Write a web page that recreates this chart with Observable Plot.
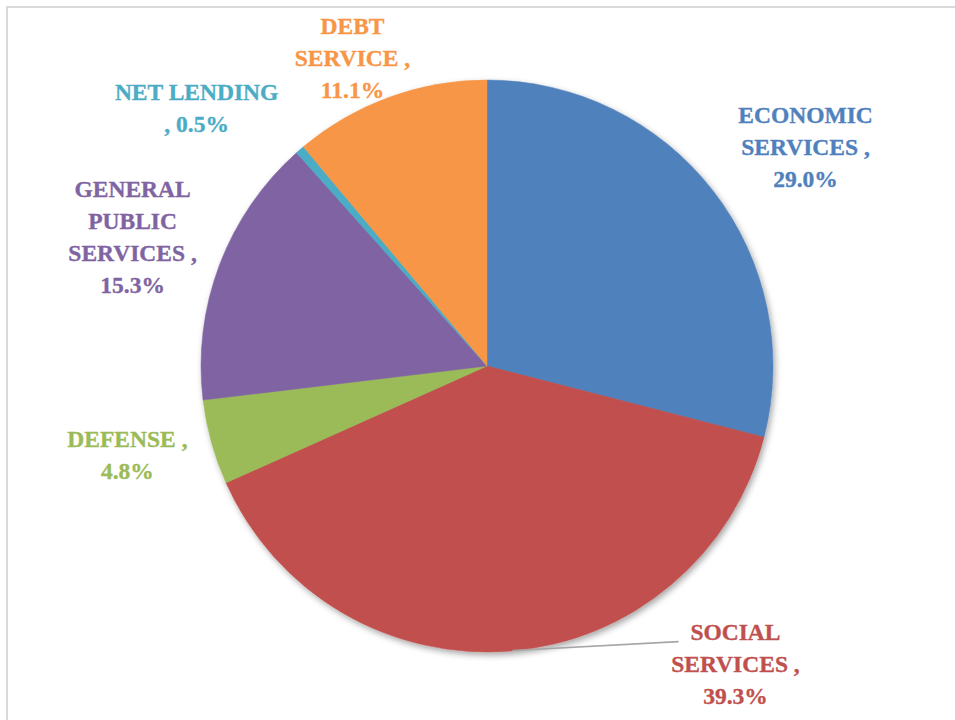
<!DOCTYPE html>
<html>
<head>
<meta charset="utf-8">
<script src="https://cdn.jsdelivr.net/npm/d3@7"></script>
<script src="https://cdn.jsdelivr.net/npm/@observablehq/plot@0.6"></script>
<style>
  html, body { margin: 0; padding: 0; background: #fff; }
  #wrap { position: relative; width: 955px; height: 720px; overflow: hidden; }
  #frame { position: absolute; left: 6px; top: 6px; width: 1000px; height: 800px;
           border-left: 2px solid #D9D9D9; border-top: 2px solid #D9D9D9; box-sizing: border-box; }
  #chart { position: absolute; left: 0; top: 0; }
</style>
</head>
<body>
<div id="wrap"><div id="frame"></div><div id="chart"></div></div>
<script>
// ---- data ----
const categories = ["ECONOMIC SERVICES", "SOCIAL SERVICES", "DEFENSE", "GENERAL PUBLIC SERVICES", "NET LENDING", "DEBT SERVICE"];
const shares = [29.0, 39.3, 4.8, 15.3, 0.5, 11.1];
// label text lines (category part, as wrapped in the chart)
const labelHeads = ["ECONOMIC\nSERVICES ,", "SOCIAL\nSERVICES ,", "DEFENSE ,", "GENERAL\nPUBLIC\nSERVICES ,", "NET LENDING\n,", "DEBT\nSERVICE ,"];
const joiners = ["\n", "\n", "\n", "\n", " ", "\n"];

// ---- styles / layout ----
const colors = ["#4F81BD", "#C0504D", "#9BBB59", "#8064A2", "#4BACC6", "#F79646"];
// label anchor positions in pie-radius units (pie centre = 0,0; radius = 1)
const labelX = [1.112, 0.867, -1.259, -1.241, -1.017, -0.472];
const labelY = [0.766, -1.042, -0.313, 0.449, 0.900, 1.077];
const leader = [{x1: 0.087, y1: -0.993, x2: 0.668, y2: -0.962}];

const data = categories.map((c, i) => ({
  category: c, value: shares[i], color: colors[i],
  label: labelHeads[i] + joiners[i] + d3.format(".1f")(shares[i]) + "%",
  lx: labelX[i], ly: labelY[i]
}));

function pieMark(index, scales) {
  const cx = scales.x(0), cy = scales.y(0);
  const r = scales.x(1) - scales.x(0);
  const arcs = d3.pie().sort(null).value(d => d.value)(data);
  const arc = d3.arc().innerRadius(0).outerRadius(r);
  const g = d3.create("svg:g");
  const defs = g.append("defs");
  const f = defs.append("filter").attr("id", "pieShadow")
    .attr("x", "-20%").attr("y", "-20%").attr("width", "140%").attr("height", "140%");
  f.append("feDropShadow").attr("dx", 2).attr("dy", 3).attr("stdDeviation", 3)
    .attr("flood-color", "#000").attr("flood-opacity", 0.35);
  const pg = g.append("g").attr("transform", `translate(${cx},${cy})`).attr("filter", "url(#pieShadow)");
  pg.selectAll("path").data(arcs).join("path")
    .attr("d", arc)
    .attr("fill", d => d.data.color)
    .attr("stroke", d => d.data.color)
    .attr("stroke-width", 0.5);
  return g.node();
}

const R = 286, CX = 487, CY = 366, W = 955, H = 720;

const chart = Plot.plot({
  width: W, height: H,
  margin: 0,
  x: {domain: [-CX / R, (W - CX) / R], axis: null},
  y: {domain: [-(H - CY) / R, CY / R], axis: null},
  style: {background: "transparent", overflow: "visible"},
  marks: [
    pieMark,
    Plot.link(leader, {x1: "x1", y1: "y1", x2: "x2", y2: "y2", stroke: "#A6A6A6", strokeWidth: 1.6}),
    Plot.text(data, {
      x: "lx", y: "ly", text: "label", fill: "color", stroke: "color", strokeWidth: 0.35,
      fontSize: 23.5, fontWeight: "bold", fontFamily: "Liberation Serif",
      lineHeight: 1.36, textAnchor: "middle", dy: -3
    })
  ]
});
document.getElementById("chart").appendChild(chart);
</script>
</body>
</html>
